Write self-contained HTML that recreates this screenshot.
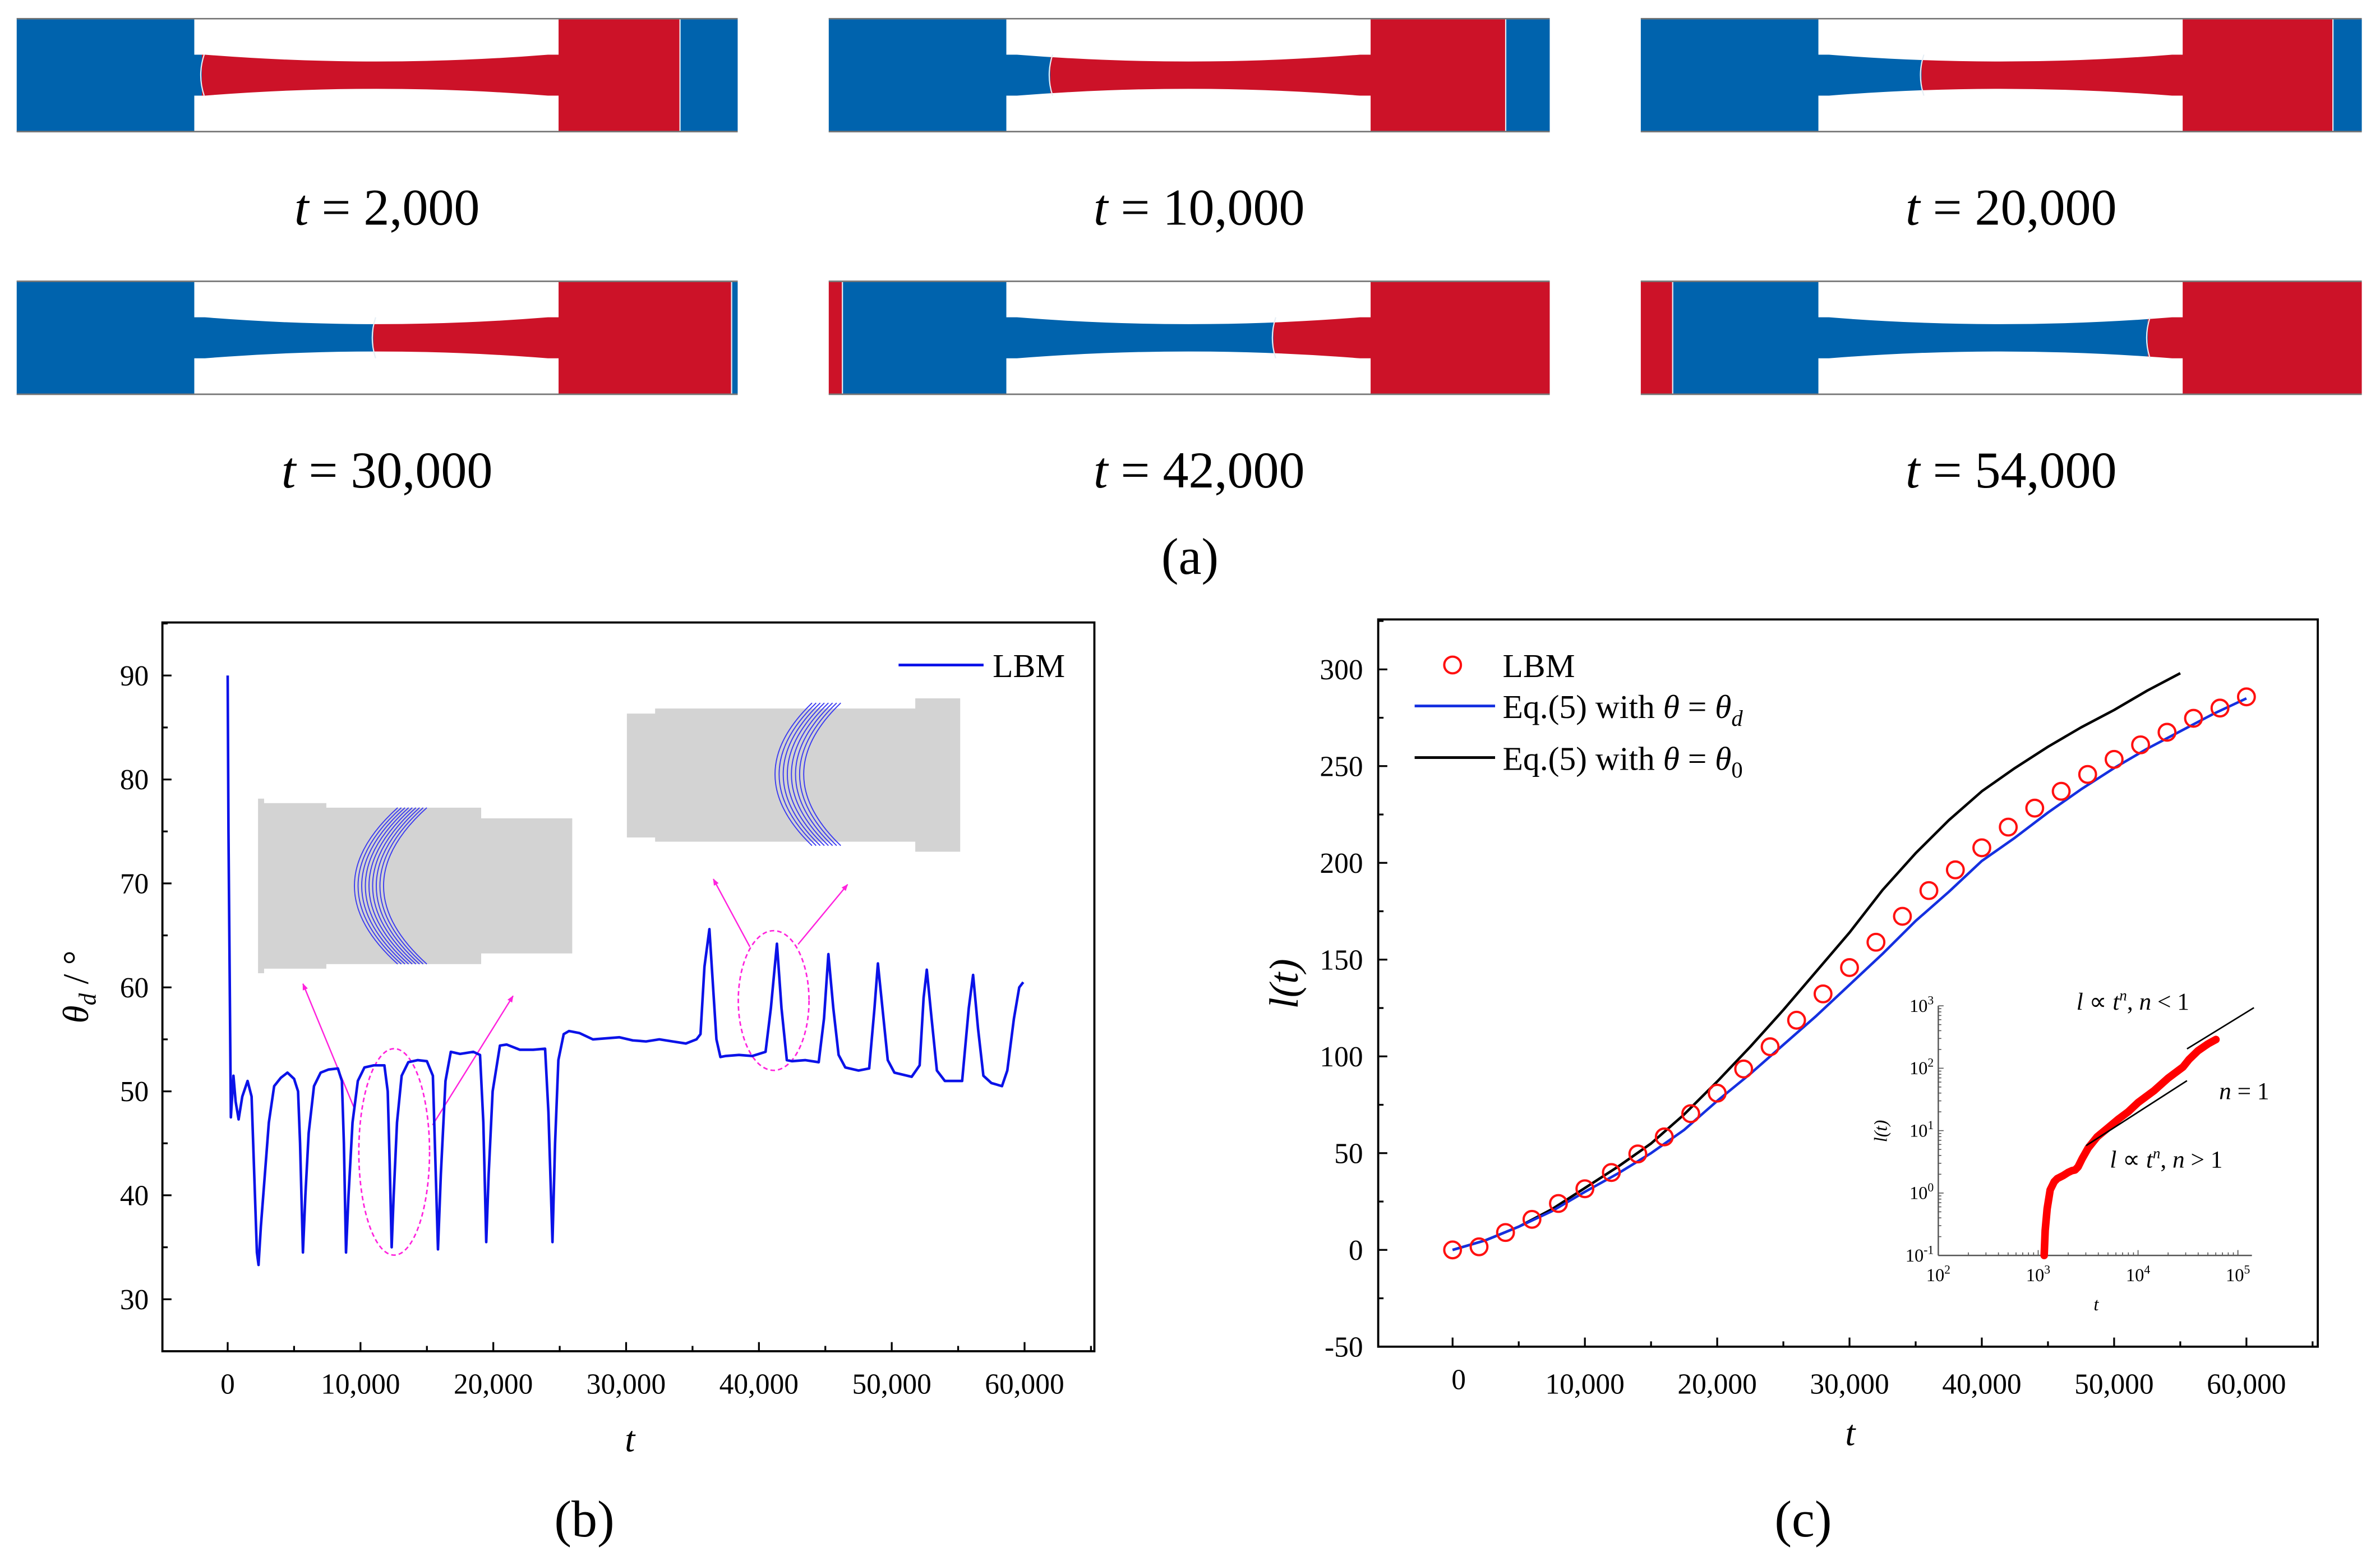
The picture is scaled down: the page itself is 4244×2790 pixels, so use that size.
<!DOCTYPE html>
<html><head><meta charset="utf-8"><style>
html,body{margin:0;padding:0;background:#fff;}
svg{display:block;}
text{font-family:"Liberation Serif",serif;fill:#000;}
</style></head><body>
<svg id="fig" width="4244" height="2790" viewBox="0 0 1568 1030.8" preserveAspectRatio="none" xmlns="http://www.w3.org/2000/svg">
<defs>
<marker id="arr" viewBox="0 0 10 10" refX="9" refY="5" markerWidth="5" markerHeight="5" orient="auto"><path d="M0,1 L10,5 L0,9 Z" fill="#ff22dd"/></marker>
</defs>
<g id="panelA"></g>
<g id="panelB"></g>
<g id="panelC"></g>
</svg>
<script>
// ---------- Panel (a) data ----------
const snapTimes = ["2,000","10,000","20,000","30,000","42,000","54,000"];
const snapSegs = [
 [[0,122,"b"],[122,437,"r"],[437,475,"b"]],
 [[0,146,"b"],[146,446,"r"],[446,475,"b"]],
 [[0,185,"b"],[185,456,"r"],[456,475,"b"]],
 [[0,235,"b"],[235,471,"r"],[471,475,"b"]],
 [[0,9,"r"],[9,293,"b"],[293,475,"r"]],
 [[0,21,"r"],[21,334,"b"],[334,475,"r"]]
];
const NS="http://www.w3.org/2000/svg";
function mk(parent,tag,attrs,txt){const e=document.createElementNS(NS,tag);for(const k in attrs)e.setAttribute(k,attrs[k]);if(txt!==undefined)e.textContent=txt;parent.appendChild(e);return e;}
const BLUE="#0063ad",RED="#cc1228";
(function(){
 const g=document.getElementById('panelA');
 const pos=[[11,12],[546,12],[1081,12],[11,185],[546,185],[1081,185]];
 pos.forEach((p,i)=>{
  const sg=mk(g,'g',{transform:`translate(${p[0]},${p[1]})`});
  
  
  snapSegs[i].forEach(s=>{mk(sg,'rect',{x:s[0],y:0,width:s[1]-s[0],height:75,fill:s[2]=="b"?BLUE:RED});});
  mk(sg,'path',{d:'M117,0 L357,0 L357,24 L350,24 Q237,33 124,24 L117,24 Z',fill:'#fff'});
  mk(sg,'path',{d:'M117,75 L357,75 L357,51 L350,51 Q237,42 124,51 L117,51 Z',fill:'#fff'});
  snapSegs[i].slice(1).forEach(s=>{const x=s[0];
   if(x>112&&x<362){mk(sg,'path',{d:`M${x+1.5},24 Q${x-3},37.5 ${x+1.5},51`,fill:'none',stroke:'#e6eef5','stroke-width':0.8});}
   else{mk(sg,'line',{x1:x,y1:0,x2:x,y2:75,stroke:'#e6eef5','stroke-width':0.8});}
  });
  mk(sg,'line',{x1:0,y1:0.3,x2:475,y2:0.3,stroke:'#777','stroke-width':1});
  mk(sg,'line',{x1:0,y1:74.7,x2:475,y2:74.7,stroke:'#777','stroke-width':1});
  const lab=mk(g,'text',{x:p[0]+244,y:p[1]+136,'font-size':34,'text-anchor':'middle'});
  
  
  mk(lab,'tspan',{'font-style':'italic'},'t');
  mk(lab,'tspan',{},' = '+snapTimes[i]);
 });
 const a=mk(g,'text',{x:784,y:378,'font-size':34,'text-anchor':'middle'},'(a)');
 
 
})();

// ---------- Panel (b) data ----------
const tB=[0,60,240,435,600,823,1100,1500,1800,2000,2200,2324,2500,2800,3100,3500,4000,4500,5000,5300,5450,5666,5850,6100,6500,7000,7600,8300,8600,8750,8910,9100,9400,9800,10300,11000,11800,12050,12200,12348,12500,12750,13100,13600,14300,15000,15450,15600,15835,16050,16400,16800,17500,18500,19000,19250,19467,19650,19950,20500,21000,22000,23000,23900,24150,24455,24650,24900,25300,25700,26500,27500,28500,29500,30500,31500,32500,33500,34500,35300,35600,35900,36271,36500,36800,37100,37500,38500,39500,40500,40900,41356,41700,42100,42500,43500,44500,44900,45230,45600,46000,46500,47500,48300,48700,48958,49300,49700,50200,51500,52100,52400,52639,53000,53400,54000,55300,55800,56126,56500,56900,57500,58300,58700,59200,59600,59903];
const thetaB=[90,75,47.5,51.5,49,47.3,49.5,51,49.5,42,34.5,33.3,37,42,47,50.5,51.3,51.8,51.2,50,45,34.5,40,46,50.5,51.8,52.1,52.2,51,45,34.5,40,47,51,52.3,52.5,52.5,50,43,35,40,47,51.5,52.8,53,52.9,51.5,45,34.8,42,51,53.8,53.6,53.8,53.5,47,35.5,42,50,54.4,54.5,54,54,54.1,48,35.5,45,53,55.5,55.8,55.6,55,55.1,55.2,54.9,54.8,55,54.8,54.6,55,55.5,62,65.6,61,55,53.3,53.4,53.5,53.4,53.8,58,64.2,58,53,52.9,53,52.8,57,63.2,58,53.5,52.3,52,52.2,58,62.3,58,53,51.8,51.4,52.5,59,61.7,57,52,51,51,58,61.2,56,51.5,50.8,50.5,52,57,60,60.5];
const xTicksB=[0,10000,20000,30000,40000,50000,60000];
const xTickLabelsB=["0","10,000","20,000","30,000","40,000","50,000","60,000"];
const yTicksB=[30,40,50,60,70,80,90];

(function(){
 const g=document.getElementById('panelB');
 const L=107,R=721,T=410,B=890, x0=-4914,x1=65257,y0=25,y1=95.1;
 const X=v=>L+(v-x0)/(x1-x0)*(R-L), Y=v=>B-(v-y0)/(y1-y0)*(B-T);
 const ins=mk(g,'g',{});
 
 
 mk(ins,'path',{d:'M170,526 L174,526 L174,529 L215,529 L215,532 L317,532 L317,539 L377,539 L377,628 L317,628 L317,635 L215,635 L215,638 L174,638 L174,641 L170,641 Z',fill:'#d3d3d3'});
 for(let k=0;k<9;k++){const ex=262+k*2.4, lx=233.5+k*2.4;mk(ins,'path',{d:`M${ex},532 Q${2*lx-ex},583.5 ${ex},635`,fill:'none',stroke:'#3b3bf0','stroke-width':0.7});}
 const ins2=mk(g,'g',{});
 
 
 mk(ins2,'path',{d:'M413,470 L431.6,470 L431.6,466.7 L603,466.7 L603,460 L632.6,460 L632.6,561 L603,561 L603,554.4 L431.6,554.4 L431.6,551.6 L413,551.6 Z',fill:'#d3d3d3'});
 for(let k=0;k<8;k++){const ex=535+k*2.7, lx=510.6+k*2.7;mk(ins2,'path',{d:`M${ex},463 Q${2*lx-ex},510 ${ex},557`,fill:'none',stroke:'#3b3bf0','stroke-width':0.7});}
 const e1=mk(g,'ellipse',{cx:259.7,cy:758.7,rx:23.3,ry:68,fill:'none',stroke:'#ff22dd','stroke-width':1,'stroke-dasharray':'3,2'});
 
 
 const e2=mk(g,'ellipse',{cx:509.7,cy:659,rx:23.3,ry:46,fill:'none',stroke:'#ff22dd','stroke-width':1,'stroke-dasharray':'3,2'});
 
 
 [[233,729,199.6,648],[285,741,338,656],[494,623.6,470,579],[525.8,622,558.4,582.6]].forEach(a=>{
  const ar=mk(g,'line',{x1:a[0],y1:a[1],x2:a[2],y2:a[3],stroke:'#ff22dd','stroke-width':0.9,'marker-end':'url(#arr)'});
  
  
 });
 const pts=tB.map((t,i)=>X(t).toFixed(2)+','+Y(thetaB[i]).toFixed(2)).join(' ');
 const s=mk(g,'polyline',{points:pts,fill:'none',stroke:'#0a12e8','stroke-width':1.7,'stroke-linejoin':'round'});
 
 
 const box=mk(g,'rect',{x:L,y:T,width:R-L,height:B-T,fill:'none',stroke:'#000','stroke-width':1.4});
 
 
 for(let v=0;v<=65000;v+=5000){const maj=v%10000==0;mk(g,'line',{x1:X(v),y1:B,x2:X(v),y2:B-(maj?6:3.5),stroke:'#000','stroke-width':1.2});}
 for(let v=30;v<=95;v+=5){const maj=v%10==0;mk(g,'line',{x1:L,y1:Y(v),x2:L+(maj?6:3.5),y2:Y(v),stroke:'#000','stroke-width':1.2});}
 xTicksB.forEach((v,i)=>{const t=mk(g,'text',{x:X(v),y:918,'font-size':19,'text-anchor':'middle'},xTickLabelsB[i]);});
 yTicksB.forEach(v=>{const t=mk(g,'text',{x:98,y:Y(v)+6.5,'font-size':19,'text-anchor':'end'},String(v));});
 const xt=mk(g,'text',{x:415,y:956,'font-size':24,'font-style':'italic','text-anchor':'middle'},'t');
 
 
 const yt=mk(g,'text',{transform:'translate(58,650) rotate(-90)','font-size':24,'text-anchor':'middle'});
 
 
 mk(yt,'tspan',{'font-style':'italic'},'θ');
 mk(yt,'tspan',{'font-style':'italic','font-size':16,dy:5},'d');
 mk(yt,'tspan',{dy:-5},' / °');
 const lg=mk(g,'g',{});
 
 
 mk(lg,'line',{x1:592,y1:438,x2:648,y2:438,stroke:'#0a12e8','stroke-width':1.8});
 mk(lg,'text',{x:654,y:446,'font-size':22},'LBM');
 const c=mk(g,'text',{x:385,y:1012,'font-size':34,'text-anchor':'middle'},'(b)');
 
 
})();

// ---------- Panel (c) data ----------
const tC=[0,2000,4000,6000,8000,10000,12000,14000,16000,18000,20000,22000,24000,26000,28000,30000,32000,34000,36000,38000,40000,42000,44000,46000,48000,50000,52000,54000,56000,58000,60000];
const lbmC=[0,1.6,9,15.8,24,31.6,40,49.6,58.4,70.4,81,93.5,105,118.7,132.3,145.9,159,172.4,185.7,196.4,207.8,218.5,228.3,237,245.7,253.5,261,267.5,274.7,280,285.8];
const tBlue=[0,2500,5000,7500,10000,12500,15000,17500,20000,22500,25000,27500,30000,32500,35000,37500,40000,42500,45000,47500,50000,52500,55000,57500,60000];
const lBlue=[0,5,12,20,30,39.5,50,62,77,91,106,121,137,153,170,185,201,213,226,238,249,259,268,277,285];
const tBlack=[0,2500,5000,7500,10000,12500,15000,17500,20000,22500,25000,27500,30000,32500,35000,37500,40000,42500,45000,47500,50000,52500,55000];
const lBlack=[0,5,12,21,32,43,55,70,87,105,124,144,164,186,205,222,237,249,260,270,279,289,298];
const xTicksC=[0,10000,20000,30000,40000,50000,60000];
const xTickLabelsC=["0","10,000","20,000","30,000","40,000","50,000","60,000"];
const yTicksC=[-50,0,50,100,150,200,250,300];
const logTIn=[3.06,3.07,3.09,3.12,3.16,3.19,3.25,3.30,3.34,3.37,3.40,3.44,3.50,3.59,3.68,3.80,3.90,4.00,4.16,4.30,4.45,4.51,4.60,4.70,4.78];
const logLIn=[-1,-0.6,-0.25,0.05,0.18,0.23,0.28,0.33,0.36,0.37,0.42,0.55,0.72,0.90,1.02,1.18,1.30,1.45,1.64,1.84,2.02,2.14,2.28,2.39,2.46];
const fitLow=[[3.48,0.76],[4.49,1.80]];
const fitHigh=[[4.49,2.31],[5.16,2.97]];
const inXTicks=[2,3,4,5], inYTicks=[-1,0,1,2,3];

(function(){
 const g=document.getElementById('panelC');
 const L=908,R=1527,T=408,B=887, x0=-5621,x1=65392,y0=-50,y1=325.8;
 const X=v=>L+(v-x0)/(x1-x0)*(R-L), Y=v=>B-(v-y0)/(y1-y0)*(B-T);
 const bk=mk(g,'polyline',{points:tBlack.map((t,i)=>X(t).toFixed(2)+','+Y(lBlack[i]).toFixed(2)).join(' '),fill:'none',stroke:'#000','stroke-width':1.7,'stroke-linejoin':'round'});
 
 
 const bl=mk(g,'polyline',{points:tBlue.map((t,i)=>X(t).toFixed(2)+','+Y(lBlue[i]).toFixed(2)).join(' '),fill:'none',stroke:'#1530e0','stroke-width':1.7,'stroke-linejoin':'round'});
 
 
 tC.forEach((t,i)=>{const c=mk(g,'circle',{cx:X(t),cy:Y(lbmC[i]),r:5.5,fill:'none',stroke:'#ff1010','stroke-width':1.5});});
 const box=mk(g,'rect',{x:L,y:T,width:R-L,height:B-T,fill:'none',stroke:'#000','stroke-width':1.4});
 
 
 for(let v=0;v<=65000;v+=5000){const maj=v%10000==0;mk(g,'line',{x1:X(v),y1:B,x2:X(v),y2:B-(maj?6:3.5),stroke:'#000','stroke-width':1.2});}
 for(let v=-50;v<=325;v+=25){const maj=v%50==0;mk(g,'line',{x1:L,y1:Y(v),x2:L+(maj?6:3.5),y2:Y(v),stroke:'#000','stroke-width':1.2});}
 xTicksC.forEach((v,i)=>{const t=mk(g,'text',{x:X(v)+(v==0?4:0),y:(v==0?915:918),'font-size':19,'text-anchor':'middle'},xTickLabelsC[i]);});
 yTicksC.forEach(v=>{const t=mk(g,'text',{x:898,y:Y(v)+6.5,'font-size':19,'text-anchor':'end'},String(v));});
 const xt=mk(g,'text',{x:1219,y:952,'font-size':24,'font-style':'italic','text-anchor':'middle'},'t');
 
 
 const yt=mk(g,'text',{transform:'translate(855,648) rotate(-90)','font-size':27,'font-style':'italic','text-anchor':'middle'},'l(t)');
 
 
 const lg1=mk(g,'g',{});
 mk(lg1,'circle',{cx:957,cy:438,r:5.5,fill:'none',stroke:'#ff1010','stroke-width':1.5});
 mk(lg1,'text',{x:990,y:446,'font-size':22},'LBM');
 const lg2=mk(g,'g',{});
 mk(lg2,'line',{x1:932,y1:465,x2:985,y2:465,stroke:'#1530e0','stroke-width':1.8});
 const t2=mk(lg2,'text',{x:990,y:473,'font-size':22},'Eq.(5) with ');
 mk(t2,'tspan',{'font-style':'italic'},'θ');mk(t2,'tspan',{},' = ');mk(t2,'tspan',{'font-style':'italic'},'θ');mk(t2,'tspan',{'font-style':'italic','font-size':15,dy:5},'d');
 const lg3=mk(g,'g',{});
 mk(lg3,'line',{x1:932,y1:499,x2:985,y2:499,stroke:'#000','stroke-width':1.8});
 const t3=mk(lg3,'text',{x:990,y:507,'font-size':22},'Eq.(5) with ');
 mk(t3,'tspan',{'font-style':'italic'},'θ');mk(t3,'tspan',{},' = ');mk(t3,'tspan',{'font-style':'italic'},'θ');mk(t3,'tspan',{'font-size':15,dy:5},'0');
 const ig=mk(g,'g',{});
 const iL=1277,iB=826.9, dx=65.8, dy=41.1;
 const IX=v=>iL+(v-2)*dx, IY=v=>iB-(v+1)*dy;
 mk(ig,'line',{x1:iL,y1:IY(3),x2:iL,y2:iB,stroke:'#555','stroke-width':0.9});
 mk(ig,'line',{x1:iL,y1:iB,x2:IX(5.14),y2:iB,stroke:'#555','stroke-width':0.9});
 for(let d=2;d<5.14;d++){for(let m=1;m<10;m++){const v=d+Math.log10(m);if(v>5.14)break;mk(ig,'line',{x1:IX(v),y1:iB,x2:IX(v),y2:iB-(m==1?3.5:2),stroke:'#555','stroke-width':0.6});}}
 mk(ig,'line',{x1:IX(5),y1:iB,x2:IX(5),y2:iB-3.5,stroke:'#555','stroke-width':0.6});
 for(let d=-1;d<=3;d++){for(let m=1;m<10;m++){const v=d+Math.log10(m);if(v>3)break;mk(ig,'line',{x1:iL,y1:IY(v),x2:iL+(m==1?3.5:2),y2:IY(v),stroke:'#555','stroke-width':0.6});}}
 const rd=mk(ig,'polyline',{points:logTIn.map((v,i)=>IX(v).toFixed(2)+','+IY(logLIn[i]).toFixed(2)).join(' '),fill:'none',stroke:'#ff0000','stroke-width':5,'stroke-linecap':'round','stroke-linejoin':'round'});
 
 
 [fitLow,fitHigh].forEach((f,k)=>{const fl=mk(ig,'line',{x1:IX(f[0][0]),y1:IY(f[0][1]),x2:IX(f[1][0]),y2:IY(f[1][1]),stroke:'#000','stroke-width':1});});
 inXTicks.forEach(v=>{const t=mk(ig,'text',{x:IX(v),y:iB+17,'font-size':12,'text-anchor':'middle'},'10');mk(t,'tspan',{'font-size':8,dy:-5},String(v));});
 inYTicks.forEach(v=>{const t=mk(ig,'text',{x:iL-3,y:IY(v)+4,'font-size':12,'text-anchor':'end'},'10');mk(t,'tspan',{'font-size':8,dy:-5},String(v));});
 const itx=mk(ig,'text',{x:1381,y:863,'font-size':12,'font-style':'italic','text-anchor':'middle'},'t');
 
 const ity=mk(ig,'text',{transform:'translate(1243,745) rotate(-90)','font-size':12,'font-style':'italic','text-anchor':'middle'},'l(t)');
 
 function ann(x,y,rel){const t=mk(ig,'text',{x:x,y:y,'font-size':16});mk(t,'tspan',{'font-style':'italic'},'l');mk(t,'tspan',{},' ∝ ');mk(t,'tspan',{'font-style':'italic'},'t');mk(t,'tspan',{'font-style':'italic','font-size':10,dy:-6},'n');mk(t,'tspan',{dy:6},', ');mk(t,'tspan',{'font-style':'italic'},'n');mk(t,'tspan',{},' '+rel+' 1');return t;}
 const a1=ann(1368,665,'<');
 const a2=ann(1390,769,'>');
 const a3=mk(ig,'text',{x:1462,y:724,'font-size':16});mk(a3,'tspan',{'font-style':'italic'},'n');mk(a3,'tspan',{},' = 1');
 
 const c=mk(g,'text',{x:1188,y:1012,'font-size':34,'text-anchor':'middle'},'(c)');
 
 
})();
</script>
</body></html>
